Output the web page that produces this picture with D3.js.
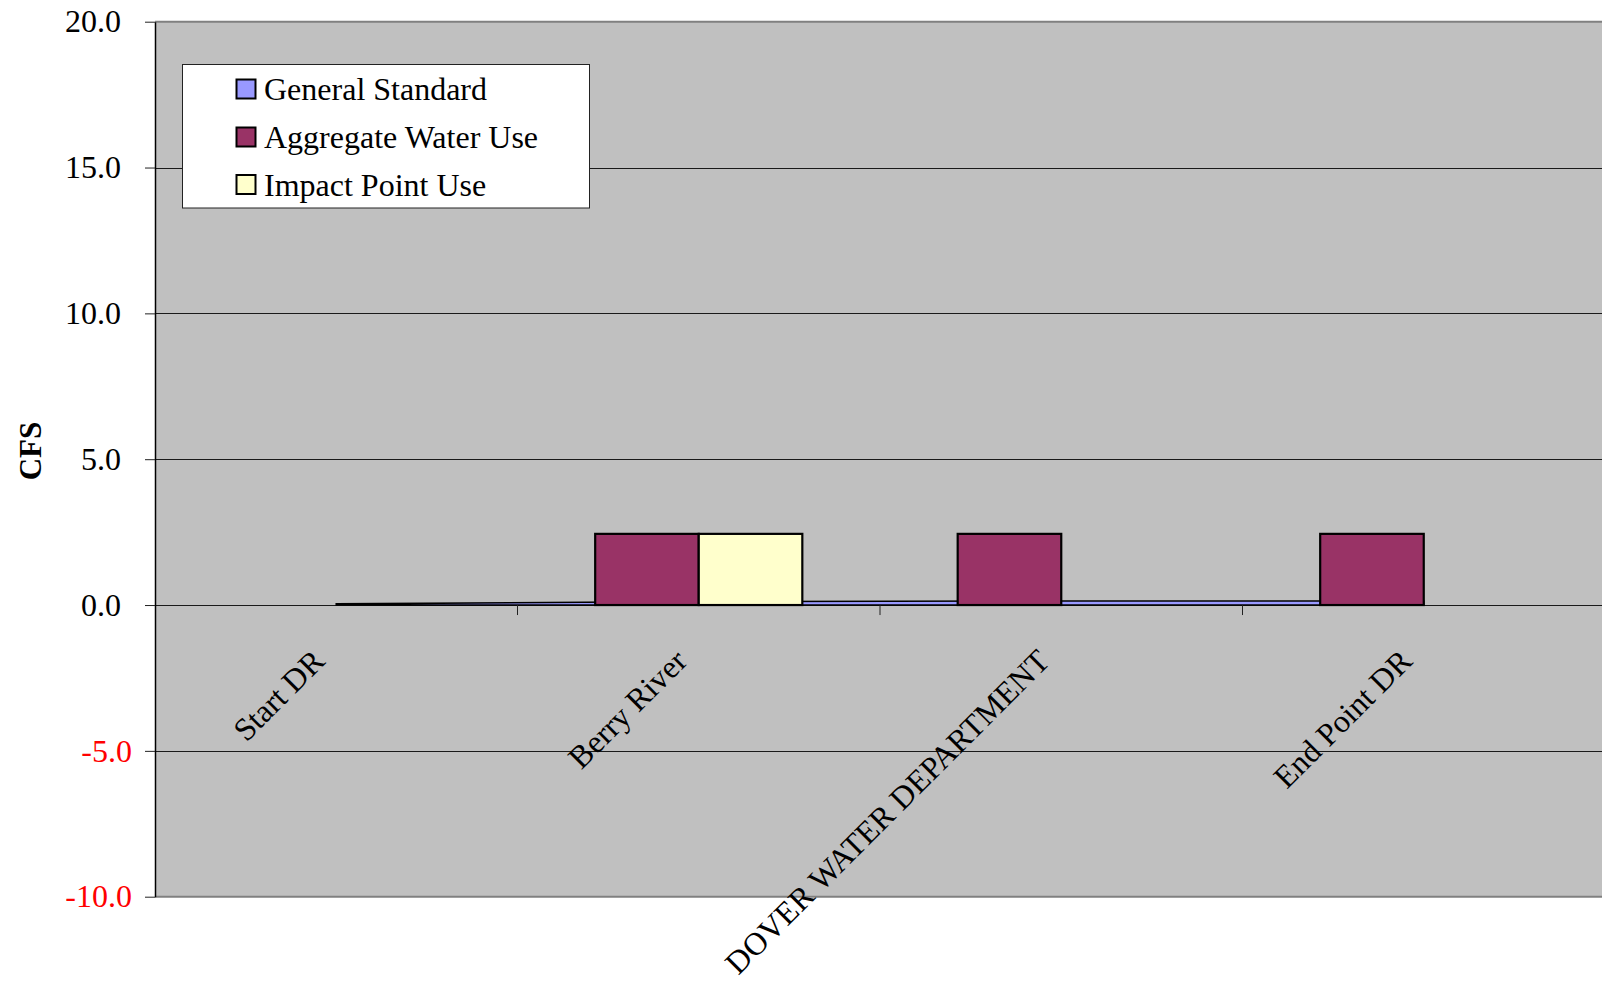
<!DOCTYPE html>
<html>
<head>
<meta charset="utf-8">
<script src="https://cdn.jsdelivr.net/npm/d3@7"></script>
<style>
  html, body { margin: 0; padding: 0; background: #fff; }
  svg { display: block; font-family: "Liberation Serif", "Times New Roman", serif; }
</style>
</head>
<body>
<svg id="chart" width="1602" height="983"></svg>
<script>
// ---- data ----
const categories = ["Start DR", "Berry River", "DOVER WATER DEPARTMENT", "End Point DR"];
const generalStandard = [0.04, 0.12, 0.14, 0.14];
const aggregateWaterUse = [0, 2.44, 2.44, 2.44];
const impactPointUse = [0, 2.44, 0, 0];
const seriesNames = ["General Standard", "Aggregate Water Use", "Impact Point Use"];
const seriesColors = ["#9999FF", "#993366", "#FFFFCC"];
const yTicks = [-10, -5, 0, 5, 10, 15, 20];

// ---- layout ----
const svg = d3.select("#chart");
const plotLeft = 155, plotRight = 1605, plotTop = 21.7, plotBottom = 896.7;
const FS = 32;

const x = d3.scaleBand().domain(categories).range([plotLeft, plotRight]).padding(0);
const y = d3.scaleLinear().domain([-10, 20]).range([plotBottom, plotTop]);
const barSeries = ["Aggregate Water Use", "Impact Point Use"];
const xInner = d3.scaleBand().domain(barSeries).range([0, x.bandwidth()])
  .paddingInner(0).paddingOuter(0.75);

// plot background
svg.append("rect")
  .attr("x", plotLeft).attr("y", plotTop)
  .attr("width", plotRight - plotLeft).attr("height", plotBottom - plotTop)
  .attr("fill", "#C0C0C0");

// gridlines
svg.append("g").selectAll("line")
  .data(yTicks.filter(t => t > -10 && t < 20))
  .join("line")
  .attr("x1", plotLeft).attr("x2", plotRight)
  .attr("y1", d => Math.round(y(d)) + 0.5).attr("y2", d => Math.round(y(d)) + 0.5)
  .attr("stroke", "#1a1a1a").attr("stroke-width", 1);

// plot border top / bottom (gray)
svg.append("line").attr("x1", plotLeft).attr("x2", plotRight)
  .attr("y1", y(20)).attr("y2", y(20)).attr("stroke", "#808080").attr("stroke-width", 2);
svg.append("line").attr("x1", plotLeft).attr("x2", plotRight)
  .attr("y1", y(-10)).attr("y2", y(-10)).attr("stroke", "#808080").attr("stroke-width", 2);

// General Standard area
const gsData = categories.map((c, i) => ({c, v: generalStandard[i]}));
const area = d3.area()
  .x(d => x(d.c) + x.bandwidth() / 2)
  .y0(y(0))
  .y1(d => y(d.v));
svg.append("path")
  .datum(gsData)
  .attr("d", area)
  .attr("fill", seriesColors[0])
  .attr("stroke", "#000").attr("stroke-width", 1.6)
  .attr("stroke-linejoin", "miter");

// bars
const barData = [];
categories.forEach((c, i) => {
  barData.push({c, s: "Aggregate Water Use", v: aggregateWaterUse[i], color: seriesColors[1]});
  barData.push({c, s: "Impact Point Use", v: impactPointUse[i], color: seriesColors[2]});
});
svg.append("g").selectAll("rect")
  .data(barData.filter(d => d.v !== 0))
  .join("rect")
  .attr("x", d => x(d.c) + xInner(d.s))
  .attr("width", xInner.bandwidth())
  .attr("y", d => y(Math.max(0, d.v)))
  .attr("height", d => Math.abs(y(d.v) - y(0)))
  .attr("fill", d => d.color)
  .attr("stroke", "#000").attr("stroke-width", 2.2);

// category ticks (boundaries)
svg.append("g").selectAll("line")
  .data(categories.slice(1))
  .join("line")
  .attr("x1", d => x(d)).attr("x2", d => x(d))
  .attr("y1", y(0)).attr("y2", y(0) + 10)
  .attr("stroke", "#222").attr("stroke-width", 1);

// category labels
svg.append("g").selectAll("text")
  .data(categories)
  .join("text")
  .attr("transform", d => `translate(${x(d) + x.bandwidth() / 2 - 10},663) rotate(-45)`)
  .attr("text-anchor", "end")
  .attr("font-size", FS)
  .attr("fill", "#000")
  .text(d => d);

// y axis
const fmt = d3.format(".1f");
const yAxis = d3.axisLeft(y).tickValues(yTicks).tickSize(10).tickSizeOuter(0)
  .tickPadding(24).tickFormat(d => fmt(d).replace("\u2212", "-"));
const gy = svg.append("g").attr("transform", `translate(${plotLeft},0)`).call(yAxis);
gy.select(".domain").attr("stroke", "#000").attr("stroke-width", 1.5);
gy.selectAll(".tick line").attr("stroke", "#222");
gy.selectAll(".tick text")
  .attr("font-size", FS)
  .attr("font-family", "Liberation Serif, Times New Roman, serif")
  .attr("fill", d => d < 0 ? "#FF0000" : "#000")
  .attr("dx", d => d < 0 ? 11 : 0);

// y axis title
svg.append("text")
  .attr("transform", "translate(41,451) rotate(-90)")
  .attr("text-anchor", "middle")
  .attr("font-size", 31)
  .attr("font-weight", "bold")
  .text("CFS");

// legend
const legend = svg.append("g");
legend.append("rect")
  .attr("x", 182.5).attr("y", 64.5).attr("width", 407).attr("height", 143.5)
  .attr("fill", "#fff").attr("stroke", "#222").attr("stroke-width", 1);
const legendBaselines = [100, 148, 195.5];
const items = legend.selectAll("g.item")
  .data(seriesNames.map((n, i) => ({n, color: seriesColors[i], yb: legendBaselines[i]})))
  .join("g").attr("class", "item");
items.append("rect")
  .attr("x", 236.5).attr("y", d => d.yb - 20.5)
  .attr("width", 19).attr("height", 19)
  .attr("fill", d => d.color)
  .attr("stroke", "#000").attr("stroke-width", 2);
items.append("text")
  .attr("x", 264).attr("y", d => d.yb)
  .attr("font-size", FS)
  .attr("fill", "#000")
  .text(d => d.n);
</script>
</body>
</html>
